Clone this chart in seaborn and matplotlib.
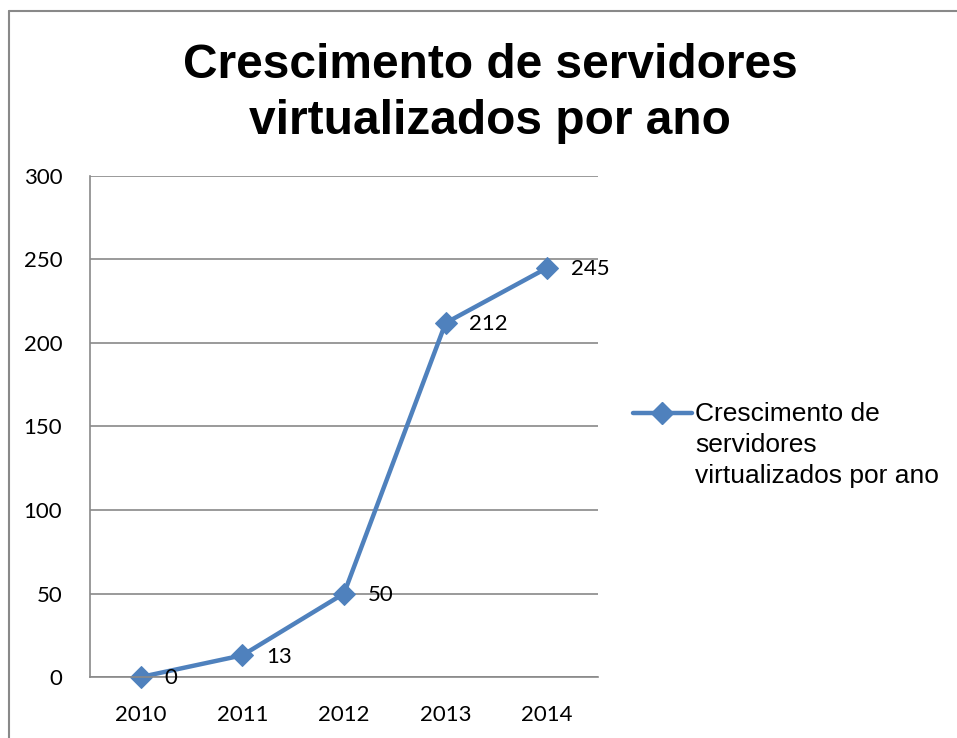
import matplotlib
matplotlib.use('Agg')
import matplotlib.pyplot as plt
import seaborn as sns
import pandas as pd
import numpy as np
from matplotlib.lines import Line2D

anos = ['2010', '2011', '2012', '2013', '2014']
servidores = [0, 13, 50, 212, 245]
titulo = 'Crescimento de servidores\nvirtualizados por ano'
legenda = 'Crescimento de\nservidores\nvirtualizados por ano'

df = pd.DataFrame({'ano': anos, 'servidores': servidores})
df['pos'] = np.arange(len(anos))

sns.set_style('white')
plt.rcParams['font.family'] = ['Lato', 'DejaVu Sans']
plt.rcParams['text.color'] = 'black'
plt.rcParams['xtick.color'] = 'black'
plt.rcParams['ytick.color'] = 'black'

cor = '#4F81BD'
cinza = '#898989'

fig = plt.figure(figsize=(9.57, 7.38), dpi=100)
ax = fig.add_axes([90/957, 1-677/738, 508/957, 501/738])

sns.lineplot(data=df, x='pos', y='servidores', ax=ax, color=cor, linewidth=3.2,
             marker='D', markersize=11, markeredgecolor=cor, legend=False, clip_on=False)

for x, y in zip(df['pos'], df['servidores']):
    ax.annotate(str(y), (x, y), xytext=(17, -1), textcoords='offset points',
                ha='left', va='center', fontsize=16, color='black')

ax.set_xlim(-0.5, 4.5)
ax.set_ylim(0, 300)
ax.set_yticks(range(0, 301, 50))
ax.set_xticks(df['pos'])
ax.set_xticklabels(anos)
ax.set_xticks(np.arange(-0.5, 5, 1), minor=True)
ax.tick_params(axis='x', which='major', length=0, pad=20, labelsize=16, labelcolor='black')
ax.tick_params(axis='x', which='minor', length=7, width=1.2, color=cinza, direction='out')
ax.tick_params(axis='y', length=6, width=1.2, color=cinza, direction='out', pad=14,
               labelsize=16, labelcolor='black')
ax.yaxis.grid(True, color=cinza, linewidth=1.2)
ax.set_axisbelow(True)
for s in ['top', 'right']:
    ax.spines[s].set_visible(False)
for s in ['left', 'bottom']:
    ax.spines[s].set_color(cinza)
    ax.spines[s].set_linewidth(1.2)
ax.set_xlabel('')
ax.set_ylabel('')

fig.text(490/957, 1-93.5/738, titulo, ha='center', va='center', fontsize=34.5, color='black',
         fontweight='bold', family=['Liberation Sans', 'DejaVu Sans'], linespacing=1.3)

# legenda
fig.add_artist(Line2D([633/957, 692/957], [1-413/738, 1-413/738], transform=fig.transFigure,
                      color=cor, linewidth=3.2))
fig.add_artist(Line2D([662/957], [1-413/738], transform=fig.transFigure, color=cor,
                      marker='D', markersize=11, linestyle='none'))
fig.text(695/957, 1-402/738, legenda, ha='left', va='top', fontsize=19, color='black',
         family=['Liberation Sans', 'DejaVu Sans'], linespacing=1.36)

# moldura
fig.add_artist(Line2D([9/957, 9/957], [0, 1-11/738], transform=fig.transFigure, color=cinza, linewidth=1.5))
fig.add_artist(Line2D([9/957, 1], [1-11/738, 1-11/738], transform=fig.transFigure, color=cinza, linewidth=1.5))

fig.savefig('out.png', dpi=100)
